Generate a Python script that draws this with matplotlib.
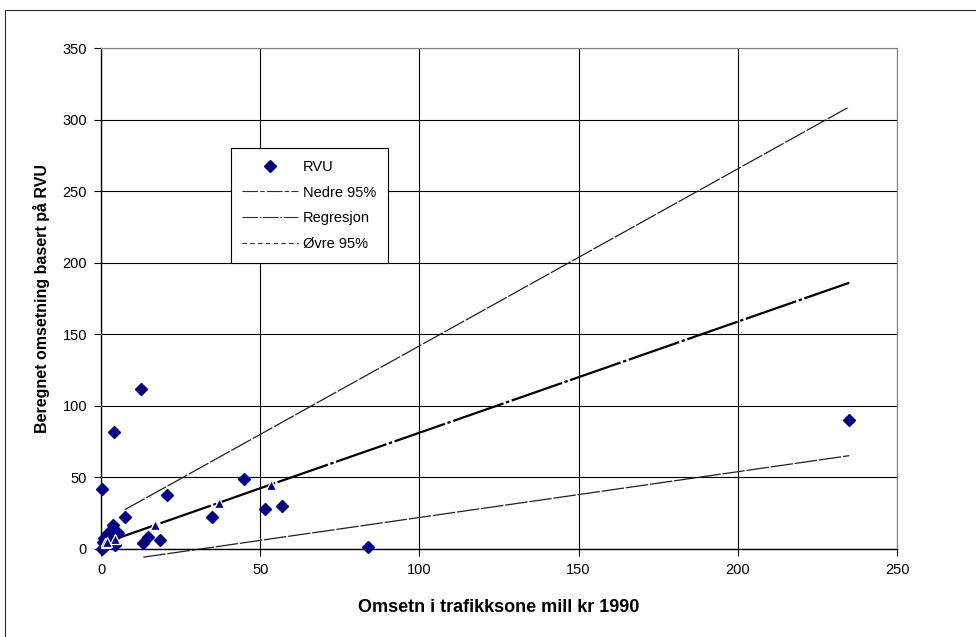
import matplotlib
matplotlib.use("Agg")
import matplotlib.pyplot as plt
from matplotlib.lines import Line2D
from matplotlib.patches import Rectangle

plt.rcParams['font.family'] = ['Liberation Sans', 'DejaVu Sans']

# RVU-baserte anslag per trafikksone
rvu_x = [0.2, 0.3, 0.6, 1.0, 1.2, 2.0, 2.3, 3.0, 3.9, 4.1, 4.5, 5.4, 7.5, 12.5, 13.3,
         14.9, 18.5, 20.8, 35.0, 44.9, 51.5, 56.9, 84.0, 235.0]
rvu_y = [42, 0, 5, 8, 2, 4, 11, 6, 17, 82, 3, 11, 22.6, 112, 4.4,
         8.6, 6.5, 38, 22.6, 49, 27.7, 30, 1.3, 90]

# regresjonslinje og 95 % grenser
reg_x = [0.3, 1.2, 2.0, 4.5, 7.5, 17.0, 37.2, 53.3, 84.0, 235.0]
reg_y = [3.7, 4.4, 5.1, 7.0, 9.3, 16.7, 32.4, 45.0, 68.8, 186.0]
reg_marks = [1, 2, 3, 5, 6, 7]

up_x = [7.5, 20.8, 35.0, 51.5, 84.0, 235.0]
up_y = [27.5, 43.9, 61.5, 81.9, 122.1, 308.9]

lo_x = [13.3, 20.8, 35.0, 51.5, 84.0, 235.0]
lo_y = [-5.7, -3.3, 1.2, 6.5, 16.9, 65.2]

xticks = [0, 50, 100, 150, 200, 250]
yticks = [0, 50, 100, 150, 200, 250, 300, 350]

navy = '#000080'

fig = plt.figure(figsize=(9.76, 6.37), dpi=100)
ax = fig.add_axes([101/976, 1 - 549/637, 796/976, 501/637])

ax.plot(lo_x, lo_y, color='#202020', lw=0.9, dashes=(18, 1.5), zorder=2, clip_on=False)
ax.plot(up_x, up_y, color='#202020', lw=0.9, dashes=(18, 1.5), zorder=2)
ax.plot(reg_x, reg_y, color='black', lw=1.6, dashes=(24, 1.2, 1.5, 1.2), zorder=2)
ax.plot(reg_x, reg_y, ls='none', marker='^', ms=6.5, mfc=navy, mec='white', mew=0.9,
        markevery=reg_marks, zorder=4)
ax.plot(rvu_x, rvu_y, ls='none', marker='D', ms=5.8, color=navy, zorder=3, clip_on=False)

ax.set_xlim(0, 250)
ax.set_ylim(0, 350)
ax.set_xticks(xticks)
ax.set_yticks(yticks)
ax.grid(True, color='black', lw=0.8)
ax.set_axisbelow(True)
for side in ['top', 'right']:
    ax.spines[side].set_color('#808080')
for side in ['left', 'bottom']:
    ax.spines[side].set_color('black')
    ax.spines[side].set_linewidth(1.0)
ax.tick_params(direction='out', length=5, width=0.8, labelsize=10.5, pad=5)

ax.set_xlabel('Omsetn i trafikksone mill kr 1990', fontsize=13, fontweight='bold')
ax.set_ylabel('Beregnet omsetning basert på RVU', fontsize=11.5, fontweight='bold')
ax.xaxis.set_label_coords(0.5, -0.1)
ax.yaxis.set_label_coords(-0.064, 0.5)

handles = [
    Line2D([], [], ls='none', marker='D', ms=5.8, color=navy),
    Line2D([], [], color='#303030', lw=0.8, dashes=(14, 2, 4, 2)),
    Line2D([], [], color='#303030', lw=0.8, dashes=(14, 1.5, 1.5, 1.5)),
    Line2D([], [], color='#303030', lw=0.8, dashes=(4, 3)),
]
labels = ['RVU', 'Nedre 95%', 'Regresjon', 'Øvre 95%']
leg = ax.legend(handles, labels, loc='upper left', bbox_to_anchor=(0.163, 0.800),
                borderaxespad=0, fontsize=10.5, frameon=True, fancybox=False,
                edgecolor='black', framealpha=1, handlelength=3.8,
                handletextpad=0.35, labelspacing=0.8, borderpad=0.8)
leg.get_frame().set_linewidth(0.8)

fig.add_artist(Rectangle((5/976, -0.1), 1.2, 1.1 - 10/637, transform=fig.transFigure,
                         fill=False, ec='#303030', lw=0.8))

fig.savefig('out.png', dpi=100)
